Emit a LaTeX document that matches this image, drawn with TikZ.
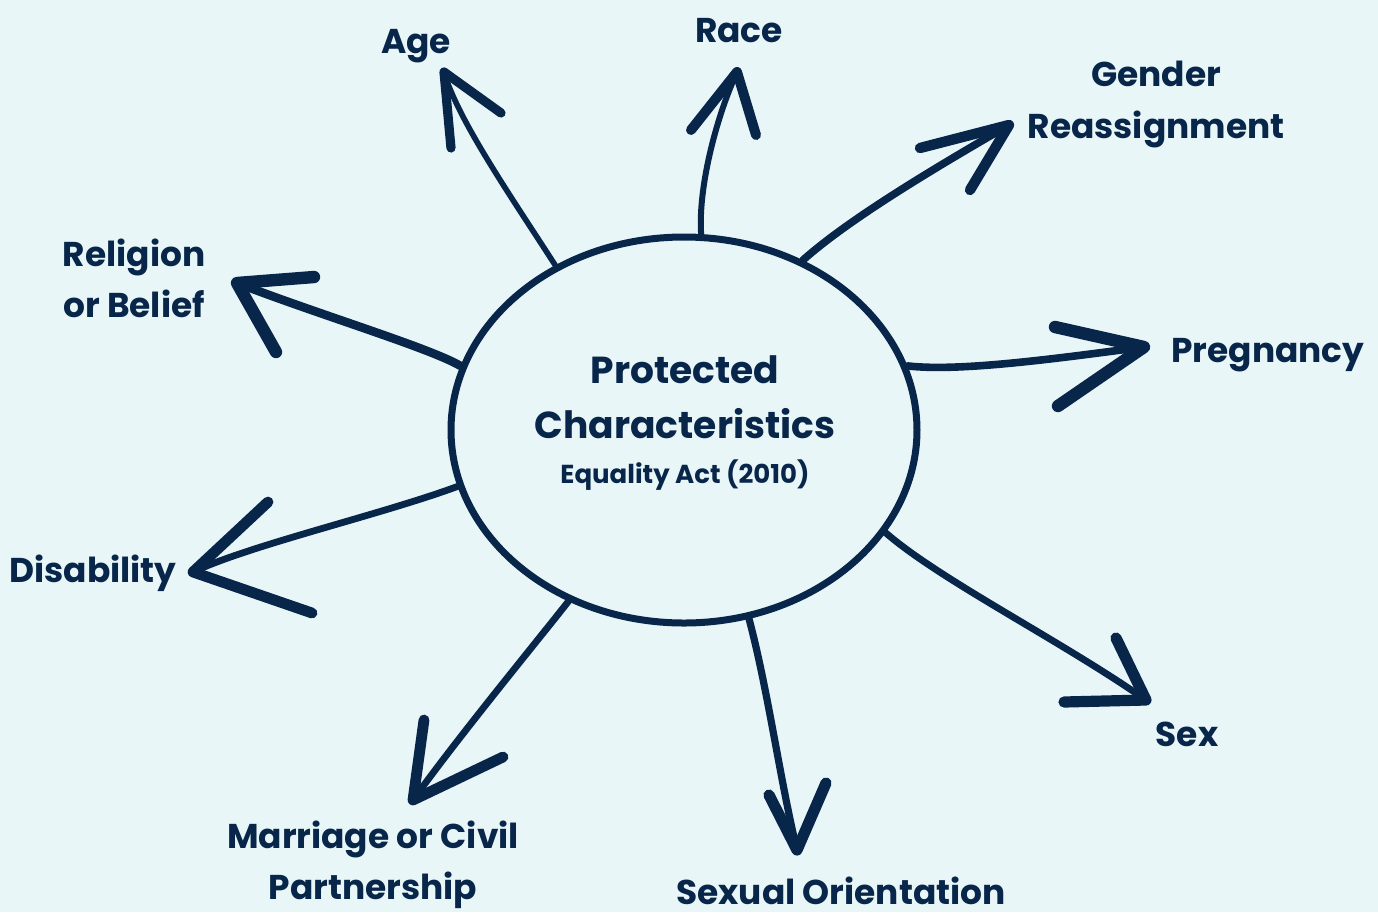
\documentclass[tikz,border=0pt]{standalone}
\usepackage{fontspec}
\setmainfont{Poppins}
\usetikzlibrary{shapes.geometric}
\definecolor{navy}{HTML}{08264A}
\definecolor{bgc}{HTML}{E8F6F8}
\tikzset{
  shaft/.style={draw=navy, line width=#1, line cap=round},
  shaft/.default=3.4pt,
  head/.style={draw=navy, line width=#1, line cap=round, line join=round},
  head/.default=5pt,
  lbl/.style={text=navy, font=\fontsize{17.2}{24}\selectfont\bfseries, inner sep=0pt, anchor=base},
  ttl/.style={text=navy, font=\fontsize{18.8}{26}\selectfont\bfseries, inner sep=0pt, anchor=base},
}
\begin{document}
\begin{tikzpicture}[x=0.5pt,y=-0.5pt]
\fill[bgc] (0,0) rectangle (1378,912);
\useasboundingbox (0,0) rectangle (1378,912);
% central ellipse
\node[ellipse, draw=navy, line width=3.5pt, minimum width=233pt, minimum height=193pt, inner sep=0pt] (c) at (684,430) {};
\node[ttl] (t1) at (685,383) {Protected};
\node[ttl] (t2) at (685,438) {Characteristics};
\node[text=navy, inner sep=0pt, anchor=base, font=\fontsize{13}{16}\selectfont\bfseries] (act) at (685,483) {Equality Act (2010)};
% labels
\node[lbl] (age) at (416,53) {Age};
\node[lbl] (race) at (739,42) {Race};
\node[lbl] (gender) at (1156,86) {Gender};
\node[lbl] (reass) at (1156,138) {Reassignment};
\node[lbl] (preg) at (1268,362) {Pregnancy};
\node[lbl] (sex) at (1187,746) {Sex};
\node[lbl] (sexor) at (841,904) {Sexual Orientation};
\node[lbl] (marr) at (373,848) {Marriage or Civil};
\node[lbl] (partn) at (373,899) {Partnership};
\node[lbl] (dis) at (93,582) {Disability};
\node[lbl] (rel) at (134,266) {Religion};
\node[lbl] (belief) at (134,317) {or Belief};
% tips
\coordinate (tAge) at (444,72);
\coordinate (tRace) at (737,72);
\coordinate (tGen) at (1009,125);
\coordinate (tPreg) at (1144,347);
\coordinate (tSex) at (1146,700);
\coordinate (tSO) at (797,850);
\coordinate (tMar) at (413,800);
\coordinate (tDis) at (193,572);
\coordinate (tRel) at (237,283);
% shafts
\draw[shaft=2.8pt] (c.128.9) .. controls (510,195) and (458,120) .. (tAge);
\draw[shaft=3pt] (c.85.9) .. controls (698,190) and (715,120) .. (tRace);
\draw[shaft=3.8pt] (c.55.5) .. controls (850,218) and (940,165) .. (tGen);
\draw[shaft=3.8pt] (c.16.2) .. controls (960,372) and (1060,358) .. (tPreg);
\draw[shaft=3.4pt] (c.-27.2) .. controls (940,580) and (1060,640) .. (tSex);
\draw[shaft=3.6pt] (c.-71.3) .. controls (768,690) and (780,780) .. (tSO);
\draw[shaft=3.4pt] (c.236) .. controls (530,650) and (460,735) .. (tMar);
\draw[shaft=3.4pt] (c.194.8) .. controls (380,515) and (250,545) .. (tDis);
\draw[shaft=4.3pt] (c.164.4) .. controls (430,348) and (320,315) .. (tRel);
% heads
\draw[head=4.6pt] (501,113) -- (tAge) -- (451,148);
\draw[head=5pt] (691,130) -- (tRace) -- (756,135);
\draw[head=5.2pt] (920,148) -- (tGen) -- (970,190);
\draw[head=6.2pt] (1055,327) -- (tPreg) -- (1058,406);
\draw[head=5.6pt] (1116,638) -- (tSex) -- (1064,702);
\draw[head=5.6pt] (769,795) -- (tSO) -- (826,783);
\draw[head=5.4pt] (424,720) -- (tMar) -- (503,757);
\draw[head=5.4pt] (268,502) -- (tDis) -- (312,613);
\draw[head=6.2pt] (314,277) -- (tRel) -- (276,352);
\end{tikzpicture}
\end{document}
